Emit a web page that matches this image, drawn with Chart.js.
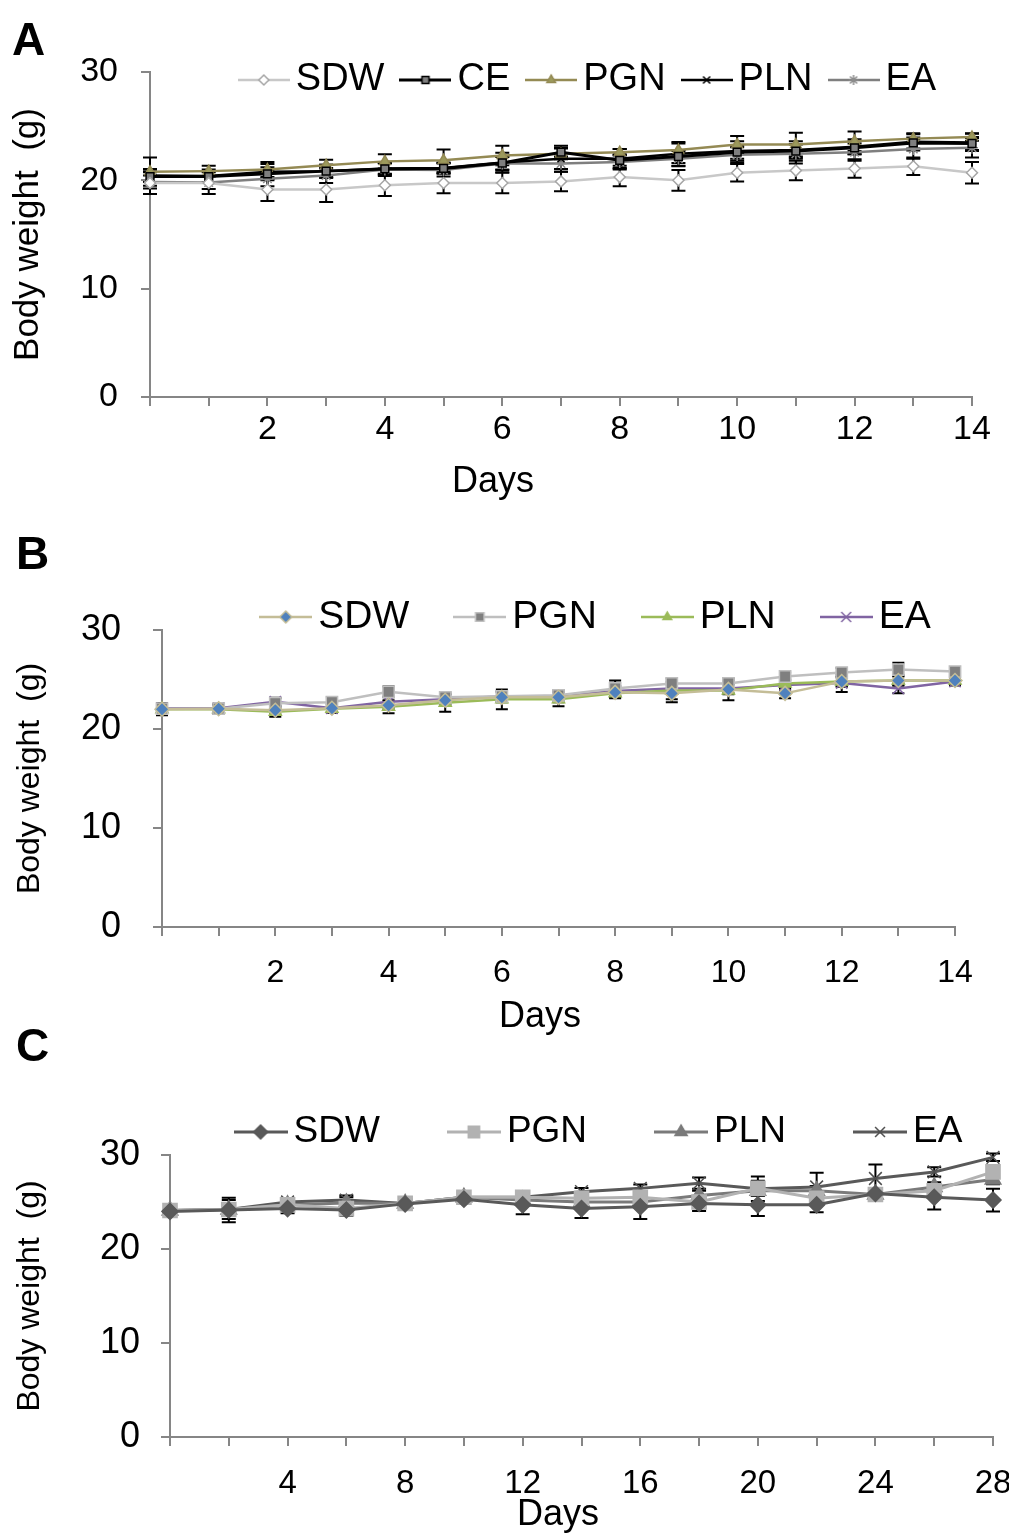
<!DOCTYPE html>
<html>
<head>
<meta charset="utf-8">
<script src="https://cdn.jsdelivr.net/npm/chart.js@4.4.0/dist/chart.umd.min.js"></script>
<style>
  body { margin: 0; background: #fff; width: 1009px; height: 1536px; position: relative; overflow: hidden;
         font-family: 'Liberation Sans', Arial, sans-serif; }
  .panel { position: absolute; left: 0; }
  .tag { position: absolute; font-weight: bold; font-size: 46px; line-height: 1; z-index: 2; }
</style>
</head>
<body>
<div class="panel" style="top:0"><canvas id="chartA" width="1009" height="520"></canvas></div>
<div class="panel" style="top:520px"><canvas id="chartB" width="1009" height="520"></canvas></div>
<div class="panel" style="top:1040px"><canvas id="chartC" width="1009" height="496"></canvas></div>
<div class="tag" style="left:12px;top:16px">A</div>
<div class="tag" style="left:16px;top:530px">B</div>
<div class="tag" style="left:16px;top:1022px">C</div>

<script>
// panel A - 14 day study
const daysA = [0, 1, 2, 3, 4, 5, 6, 7, 8, 9, 10, 11, 12, 13, 14];
const sdwA = [19.75, 19.75, 19.15, 19.15, 19.55, 19.75, 19.75, 19.9, 20.3, 20.0, 20.7, 20.9, 21.1, 21.3, 20.7];
const ceA  = [20.35, 20.35, 20.6, 20.85, 21.05, 21.1, 21.6, 22.6, 21.85, 22.2, 22.6, 22.7, 23.0, 23.45, 23.4];
const pgnA = [20.8, 20.85, 21.0, 21.4, 21.75, 21.85, 22.3, 22.45, 22.6, 22.8, 23.3, 23.3, 23.6, 23.85, 24.0];
const plnA = [20.45, 20.4, 20.8, 20.85, 21.1, 21.15, 21.65, 22.0, 22.0, 22.45, 22.7, 22.8, 23.1, 23.55, 23.5];
const eaA  = [19.85, 19.8, 20.15, 20.45, 21.0, 20.95, 21.55, 21.55, 21.7, 22.0, 22.35, 22.45, 22.6, 22.9, 23.0];
const sdwErrA = [1.0, 1.0, 1.05, 1.15, 1.0, 0.95, 0.95, 0.9, 0.85, 0.95, 0.8, 0.9, 0.85, 0.8, 1.0];
const ceErrA  = [0.5, 0.5, 0.6, 0.6, 0.5, 0.5, 0.6, 0.4, 0.5, 0.6, 0.6, 0.6, 0.6, 0.5, 0.6];
const pgnErrA = [1.3, 0.5, 0.7, 0.5, 0.65, 1.0, 0.9, 0.5, 0.3, 0.6, 0.8, 1.1, 0.9, 0.4, 0.35];
const plnErrA = [0.6, 0.6, 0.7, 0.6, 0.5, 0.5, 0.9, 1.2, 0.9, 1.1, 0.9, 0.8, 0.7, 0.8, 0.8];
const eaErrA  = [0.6, 0.6, 0.7, 0.7, 0.6, 0.6, 0.6, 0.5, 0.7, 0.7, 0.7, 0.9, 0.8, 0.9, 0.9];

// panel B - 14 day study
const daysB = [0, 1, 2, 3, 4, 5, 6, 7, 8, 9, 10, 11, 12, 13, 14];
const sdwB = [22.0, 22.05, 21.9, 22.1, 22.4, 22.9, 23.2, 23.2, 23.7, 23.6, 24.0, 23.6, 24.8, 24.9, 24.9];
const pgnB = [22.05, 22.05, 22.6, 22.7, 23.75, 23.2, 23.3, 23.4, 24.1, 24.6, 24.6, 25.3, 25.7, 26.0, 25.8];
const plnB = [22.0, 22.0, 21.75, 22.05, 22.25, 22.65, 23.0, 23.0, 23.6, 23.9, 23.9, 24.6, 24.8, 24.9, 24.9];
const eaB  = [22.1, 22.1, 22.75, 22.1, 22.75, 23.0, 23.3, 23.3, 23.85, 24.1, 24.1, 24.45, 24.65, 24.1, 24.8];
const sdwErrB = [0.4, 0.4, 0.4, 0.4, 0.4, 0.5, 0.5, 0.5, 0.5, 0.9, 0.5, 0.5, 0.5, 0.5, 0.4];
const pgnErrB = [0.5, 0.5, 0.5, 0.5, 0.55, 0.5, 0.5, 0.5, 0.8, 0.5, 0.5, 0.4, 0.45, 0.7, 0.4];
const plnErrB = [0.6, 0.4, 0.5, 0.4, 0.65, 0.9, 1.0, 0.7, 0.5, 0.9, 1.0, 0.5, 0.5, 0.5, 0.4];
const eaErrB  = [0.5, 0.4, 0.4, 0.4, 0.5, 0.5, 0.5, 0.5, 0.5, 0.5, 0.5, 0.5, 0.9, 0.5, 0.4];

// panel C - 28 day study
const daysC = [0, 2, 4, 6, 8, 10, 12, 14, 16, 18, 20, 22, 24, 26, 28];
const sdwC = [24.0, 24.15, 24.3, 24.15, 24.8, 25.3, 24.7, 24.3, 24.5, 24.85, 24.7, 24.7, 25.9, 25.5, 25.2];
const pgnC = [24.1, 24.2, 24.7, 24.3, 24.85, 25.5, 25.5, 25.4, 25.5, 25.0, 26.45, 25.4, 25.8, 26.2, 28.2];
const plnC = [24.1, 24.2, 24.7, 24.9, 24.85, 25.5, 25.2, 25.0, 25.0, 25.7, 26.2, 26.2, 25.8, 26.6, 27.4];
const eaC  = [24.1, 24.2, 25.0, 25.2, 24.85, 25.5, 25.5, 26.1, 26.45, 27.0, 26.4, 26.6, 27.5, 28.2, 29.75];
const sdwErrC = [0.5, 1.3, 0.5, 0.6, 0.5, 0.5, 1.0, 1.0, 1.3, 0.8, 1.2, 0.8, 0.6, 1.3, 1.2];
const pgnErrC = [0.5, 0.5, 0.5, 0.6, 0.5, 0.5, 0.5, 0.5, 0.6, 0.5, 0.8, 0.6, 0.5, 0.6, 0.5];
const plnErrC = [0.5, 0.5, 0.5, 0.6, 0.5, 0.5, 0.5, 0.5, 0.5, 0.5, 0.5, 0.5, 0.5, 0.5, 0.5];
const eaErrC  = [0.5, 1.0, 0.4, 0.5, 0.4, 0.3, 0.3, 0.4, 0.4, 0.6, 1.3, 1.5, 1.5, 0.5, 0.4];

const yTicks = [0, 10, 20, 30];
const FONT = "'Liberation Sans', Arial, sans-serif";

// black error bars drawn under the lines
const errorBars = {
  id: 'errorBars',
  beforeDatasetsDraw(chart, args, opts) {
    const { ctx, scales: { x, y } } = chart;
    ctx.save();
    ctx.strokeStyle = '#000';
    ctx.lineWidth = opts.width;
    chart.data.datasets.forEach(ds => {
      ds.data.forEach((p, i) => {
        const px = x.getPixelForValue(p.x);
        const top = y.getPixelForValue(p.y + ds.err[i]);
        const bot = y.getPixelForValue(p.y - ds.err[i]);
        ctx.beginPath();
        ctx.moveTo(px, top); ctx.lineTo(px, bot);
        ctx.moveTo(px - opts.cap, top); ctx.lineTo(px + opts.cap, top);
        ctx.moveTo(px - opts.cap, bot); ctx.lineTo(px + opts.cap, bot);
        ctx.stroke();
      });
    });
    ctx.restore();
  }
};

// excel style legend (one row, inside the plot) + the x axis title
const inlineLegend = {
  id: 'inlineLegend',
  afterDraw(chart, args, o) {
    const ctx = chart.ctx;
    ctx.save();
    ctx.fillStyle = '#000';
    ctx.textBaseline = 'middle';
    ctx.font = o.size + 'px ' + FONT;
    const items = chart.data.datasets.map(ds => ({ icon: ds.icon, text: ds.label, w: ctx.measureText(ds.label).width }));
    const total = items.reduce((a, it) => a + it.icon.width + o.iconGap + it.w, 0) + o.gap * (items.length - 1);
    let x = o.cx - total / 2;
    items.forEach(it => {
      ctx.drawImage(it.icon, x, o.y - it.icon.height / 2);
      x += it.icon.width + o.iconGap;
      ctx.textAlign = 'left';
      ctx.fillText(it.text, x, o.y);
      x += it.w + o.gap;
    });
    ctx.font = o.daysSize + 'px ' + FONT;
    ctx.textAlign = 'center';
    ctx.fillText('Days', o.daysX, o.daysY);
    ctx.restore();
  }
};

// line + marker icon for legend entries
function legendIcon(s, w) {
  const c = document.createElement('canvas');
  c.width = w; c.height = 30;
  const g = c.getContext('2d');
  g.strokeStyle = s.line; g.lineWidth = s.lineW;
  g.beginPath(); g.moveTo(0, 15); g.lineTo(w, 15); g.stroke();
  g.fillStyle = s.fill; g.strokeStyle = s.stroke; g.lineWidth = 1.5;
  Chart.helpers.drawPoint(g, { pointStyle: s.style, radius: s.iconR, borderWidth: 1.5, rotation: 0 }, w / 2, 15);
  return c;
}

function makeChart(id, p) {
  const datasets = p.series.map(s => ({
    label: s.label,
    data: p.days.map((d, i) => ({ x: d, y: s.values[i] })),
    err: s.err,
    borderColor: s.line,
    borderWidth: s.lineW,
    pointStyle: s.style,
    pointRadius: s.r,
    pointHoverRadius: s.r,
    pointBackgroundColor: s.fill,
    pointBorderColor: s.stroke,
    pointBorderWidth: 1.5,
    tension: 0,
    clip: false,
    icon: legendIcon(s, p.iconW)
  }));

  return new Chart(document.getElementById(id), {
    type: 'line',
    data: { datasets },
    plugins: [errorBars, inlineLegend],
    options: {
      responsive: false,
      animation: false,
      layout: { padding: { left: 0, top: p.top, right: p.right, bottom: 0 } },
      plugins: {
        legend: { display: false },
        tooltip: { enabled: false },
        errorBars: { cap: p.cap, width: 2 },
        inlineLegend: p.legend
      },
      scales: {
        x: {
          type: 'linear', min: 0, max: p.xMax,
          afterFit: s => { s.height = p.xH; s.paddingLeft = 0; s.paddingRight = 0; },
          border: { color: '#868686', width: 2 },
          grid: { drawOnChartArea: false, drawTicks: true, tickLength: 9, color: '#868686', lineWidth: 2 },
          ticks: {
            stepSize: p.xStep, autoSkip: false, maxRotation: 0, color: '#000', padding: p.xPad,
            font: { family: FONT, size: p.xTickSize },
            callback: v => (v !== 0 && v % p.xLabelEvery === 0) ? v : ''
          }
        },
        y: {
          min: 0, max: 30,
          afterFit: s => { s.width = p.yW; },
          afterBuildTicks: s => { s.ticks = yTicks.map(v => ({ value: v })); },
          border: { color: '#868686', width: 2 },
          grid: { drawOnChartArea: false, drawTicks: true, tickLength: 9, color: '#868686', lineWidth: 2 },
          ticks: { color: '#000', padding: p.yPad, font: { family: FONT, size: p.yTickSize } },
          title: { display: true, text: 'Body weight  (g)', color: '#000', font: { family: FONT, size: p.titleSize },
                   padding: { top: p.yTitlePad, bottom: 0 } }
        }
      }
    }
  });
}

makeChart('chartA', {
  days: daysA, xMax: 14, xStep: 1, xLabelEvery: 2,
  top: 72, right: 37, yW: 150, xH: 123,
  xTickSize: 34, yTickSize: 34, titleSize: 35, xPad: 3, yPad: 23, yTitlePad: 7,
  iconW: 52, cap: 7,
  legend: { cx: 587, y: 80, size: 38, gap: 15, iconGap: 6, daysX: 493, daysY: 482, daysSize: 36 },
  series: [
    { label: 'SDW', values: sdwA, err: sdwErrA, line: '#c8c8c8', lineW: 2.5, style: 'rectRot', r: 5.5, iconR: 5, fill: '#ffffff', stroke: '#a6a6a6' },
    { label: 'CE',  values: ceA,  err: ceErrA,  line: '#000000', lineW: 3, style: 'rect', r: 5.5, iconR: 5, fill: '#7f7f7f', stroke: '#000000' },
    { label: 'PGN', values: pgnA, err: pgnErrA, line: '#948a54', lineW: 2.5, style: 'triangle', r: 6, iconR: 5, fill: '#9c9a5c', stroke: '#948a54' },
    { label: 'PLN', values: plnA, err: plnErrA, line: '#000000', lineW: 2.5, style: 'crossRot', r: 5, iconR: 5, fill: '#000000', stroke: '#000000' },
    { label: 'EA',  values: eaA,  err: eaErrA,  line: '#7f7f7f', lineW: 2.5, style: 'star', r: 6, iconR: 5, fill: '#8c8c8c', stroke: '#8c8c8c' }
  ]
});

makeChart('chartB', {
  days: daysB, xMax: 14, xStep: 1, xLabelEvery: 2,
  top: 110, right: 54, yW: 162, xH: 113,
  xTickSize: 32, yTickSize: 36, titleSize: 32, xPad: 18, yPad: 32, yTitlePad: 11,
  iconW: 53, cap: 6,
  legend: { cx: 595, y: 97, size: 39, gap: 44, iconGap: 6, daysX: 540, daysY: 497, daysSize: 36 },
  series: [
    { label: 'SDW', values: sdwB, err: sdwErrB, line: '#c4bd97', lineW: 2.5, style: 'rectRot', r: 7, iconR: 6, fill: '#4f81bd', stroke: '#c4bd97' },
    { label: 'PGN', values: pgnB, err: pgnErrB, line: '#bfbfbf', lineW: 2.5, style: 'rect', r: 8, iconR: 6, fill: '#7f7f7f', stroke: '#bfbfbf' },
    { label: 'PLN', values: plnB, err: plnErrB, line: '#9bbb59', lineW: 2.5, style: 'triangle', r: 7, iconR: 5, fill: '#9bbb59', stroke: '#9bbb59' },
    { label: 'EA',  values: eaB,  err: eaErrB,  line: '#8064a2', lineW: 2.5, style: 'crossRot', r: 8, iconR: 7, fill: '#8064a2', stroke: '#8064a2' }
  ]
});

makeChart('chartC', {
  days: daysC, xMax: 28, xStep: 2, xLabelEvery: 4,
  top: 115, right: 16, yW: 170, xH: 99,
  xTickSize: 33, yTickSize: 36, titleSize: 32, xPad: 18, yPad: 21, yTitlePad: 11,
  iconW: 54, cap: 7,
  legend: { cx: 598, y: 92, size: 37, gap: 67, iconGap: 6, daysX: 558, daysY: 475, daysSize: 36 },
  series: [
    { label: 'SDW', values: sdwC, err: sdwErrC, line: '#595959', lineW: 3, style: 'rectRot', r: 8, iconR: 7, fill: '#595959', stroke: '#595959' },
    { label: 'PGN', values: pgnC, err: pgnErrC, line: '#b2b2b2', lineW: 3, style: 'rect', r: 10, iconR: 8, fill: '#b2b2b2', stroke: '#b2b2b2' },
    { label: 'PLN', values: plnC, err: plnErrC, line: '#7a7a7a', lineW: 3, style: 'triangle', r: 9, iconR: 7, fill: '#7a7a7a', stroke: '#7a7a7a' },
    { label: 'EA',  values: eaC,  err: eaErrC,  line: '#595959', lineW: 3, style: 'crossRot', r: 9, iconR: 7, fill: '#4d4d4d', stroke: '#4d4d4d' }
  ]
});
</script>
</body>
</html>
